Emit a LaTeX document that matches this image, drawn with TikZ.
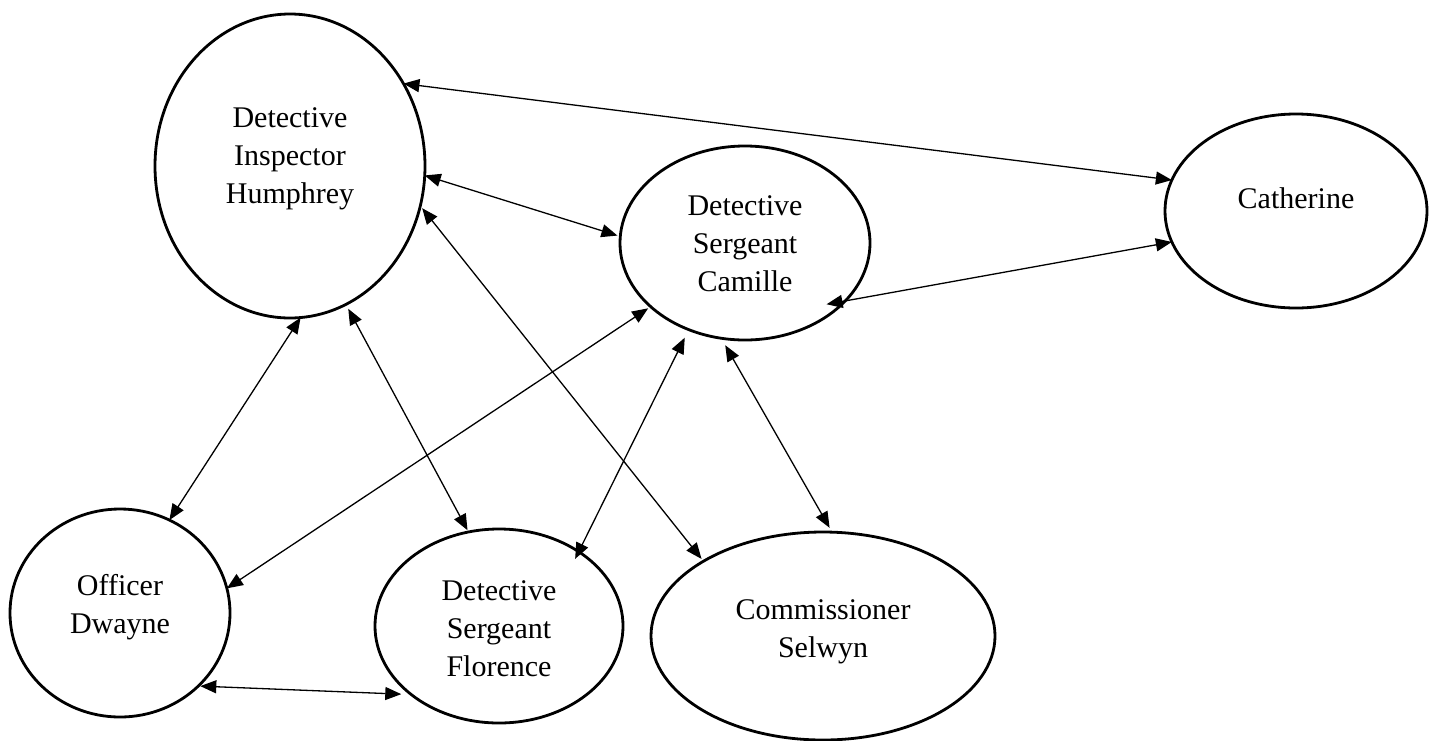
\documentclass[tikz,border=0pt]{standalone}
\usepackage{fontspec}
\setmainfont{Liberation Serif}
\usetikzlibrary{arrows.meta,shapes.geometric}
\tikzset{
  person/.style={draw, ellipse, line width=2.8pt, inner sep=0pt, outer sep=0pt},
  conn/.style={{Triangle[length=16pt,width=13pt]}-{Triangle[length=16pt,width=13pt]}, line width=1.3pt},
  lbl/.style={align=center, font=\fontsize{30}{38}\selectfont, inner sep=0pt}
}
\begin{document}
\begin{tikzpicture}[x=1pt,y=-1pt]
\useasboundingbox (0,0) rectangle (1435,740);
\node[person, minimum width=270pt, minimum height=304pt,
  label={[lbl,yshift=7pt]center:Detective\\Inspector\\Humphrey}] (hum) at (290,166) {};
\node[person, minimum width=250pt, minimum height=194pt,
  label={[lbl,yshift=-1pt]center:Detective\\Sergeant\\Camille}] (cam) at (745,243) {};
\node[person, minimum width=262pt, minimum height=194pt,
  label={[lbl,yshift=13pt]center:Catherine}] (cat) at (1296,211) {};
\node[person, minimum width=220pt, minimum height=208pt,
  label={[lbl,yshift=6pt]center:Officer\\Dwayne}] (dwa) at (120,613) {};
\node[person, minimum width=248pt, minimum height=194pt,
  label={[lbl,yshift=-3pt]center:Detective\\Sergeant\\Florence}] (flo) at (499,626) {};
\node[person, minimum width=344pt, minimum height=208pt,
  label={[lbl,yshift=4pt]center:Commissioner\\Selwyn}] (sel) at (823,636) {};

\draw[conn] (hum.36) -- (cat.166);
\draw[conn, shorten >=3pt] (hum.-4) -- (cam.177);
\draw[conn, shorten <=3pt, shorten >=3pt] (hum.-17) -- (sel.148);
\draw[conn] (hum.-86) -- (dwa.62);
\draw[conn, shorten <=5pt, shorten >=2pt] (hum.-68) -- (flo.108);
\draw[conn, shorten <=3pt] (cam.214) -- (dwa.13);
\draw[conn, shorten <=9pt, shorten >=-8pt] (cam.237) -- (flo.43);
\draw[conn, shorten <=8pt, shorten >=5pt] (cam.256) -- (sel.85);
\draw[conn, shorten <=-19pt] (cam.-30) -- (cat.194);
\draw[conn, shorten <=2pt, shorten >=10pt] (dwa.-43.5) -- (flo.218);
\end{tikzpicture}
\end{document}
